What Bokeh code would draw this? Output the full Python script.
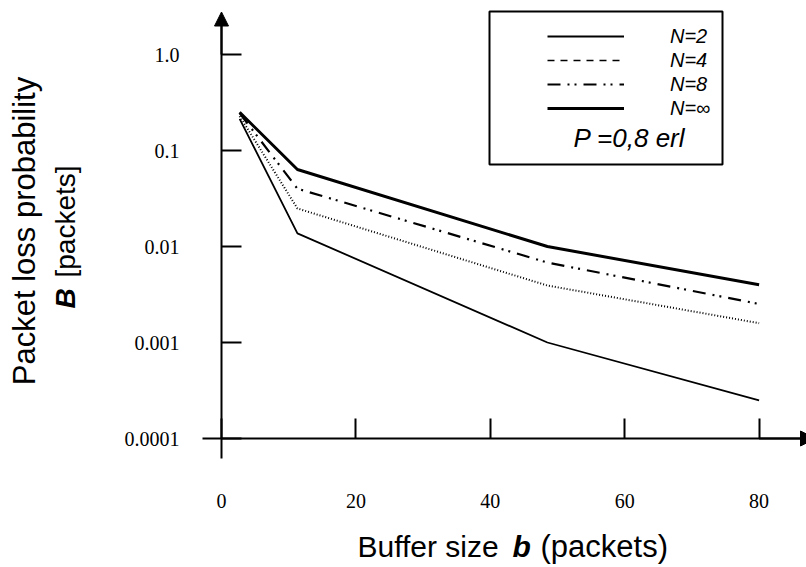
import math
from bokeh.plotting import figure
from bokeh.models import (FixedTicker, Label, BoxAnnotation, Arrow, NormalHead,
                          Legend, LegendItem, Range1d, CDSView, IndexFilter,
                          ColumnDataSource)
from bokeh.embed import file_html
from bokeh.resources import INLINE

# ---------------- data ----------------
buffer_size = [2.7, 11.3, 48.5, 80]
loss_n2 = [0.214, 0.0137, 0.00100, 0.000249]
loss_n4 = [0.228, 0.0249, 0.00392, 0.00159]
loss_n8 = [0.245, 0.0400, 0.0068, 0.00252]
loss_ninf = [0.25, 0.0634, 0.0100, 0.00399]
series_labels = ["N=2", "N=4", "N=8", "N=\u221e"]
load_label = "P =0,8 erl"
x_ticks = [0, 20, 40, 60, 80]
y_ticks = [1e-4, 1e-3, 1e-2, 1e-1, 1.0]
y_tick_labels = ["0.0001", "0.001", "0.01", "0.1", "1.0"]

# ---------------- geometry helpers (canvas px -> data) ----------------
W, H = 806, 566
PX_PER_X = 6.72      # pixels per buffer unit
X_AXIS_PX = 221      # canvas x of x=0
Y_BASE_PX = 438      # canvas y of 1e-4
PX_PER_DEC = 96.0    # pixels per decade


def dx(px):
    return (px - X_AXIS_PX) / PX_PER_X


def dy(py):
    return 10 ** (-4 + (Y_BASE_PX - py) / PX_PER_DEC)


p = figure(width=W, height=H, output_backend="svg", toolbar_location=None,
           y_axis_type="log",
           x_range=Range1d(dx(0), dx(W)), y_range=Range1d(dy(H), dy(0)),
           min_border=0, min_border_left=0, min_border_right=0,
           min_border_top=0, min_border_bottom=0)
p.outline_line_color = None
p.grid.visible = False
p.background_fill_color = "white"
p.border_fill_color = "white"

# ---------------- axes ----------------
xa = p.xaxis[0]
xa.fixed_location = 1e-4
xa.ticker = FixedTicker(ticks=x_ticks)
xa.minor_tick_line_color = None
xa.major_tick_in = 20
xa.major_tick_out = 0
xa.major_tick_line_width = 2
xa.axis_line_width = 2
xa.major_label_standoff = 55
xa.major_label_text_font = "Liberation Serif"
xa.major_label_text_font_size = "20px"
xa.major_label_text_color = "black"
xa.bounds = (dx(202), dx(802))

ya = p.yaxis[0]
ya.fixed_location = 0
ya.ticker = FixedTicker(ticks=y_ticks)
ya.minor_tick_line_color = None
ya.major_tick_in = 20
ya.major_tick_out = 0
ya.major_tick_line_width = 2
ya.axis_line_width = 2
ya.major_label_standoff = 42
ya.major_label_text_font = "Liberation Serif"
ya.major_label_text_font_size = "20px"
ya.major_label_text_color = "black"
ya.major_label_overrides = {t: s for t, s in zip(y_ticks, y_tick_labels)}
ya.bounds = (dy(458), dy(20))

# arrow heads
p.add_layout(Arrow(end=NormalHead(size=14, fill_color="black", line_color="black"),
                   x_start=0, y_start=1.0, x_end=0, y_end=dy(11.5),
                   line_width=2, line_color="black"))
p.add_layout(Arrow(end=NormalHead(size=15, fill_color="black", line_color="black"),
                   x_start=80, y_start=1e-4, x_end=dx(815), y_end=1e-4,
                   line_width=2, line_color="black"))

# ---------------- series ----------------
r2 = p.line(buffer_size, loss_n2, line_color="black", line_width=1.8)
r4 = p.line(buffer_size, loss_n4, line_color="black", line_width=2,
            line_dash="1 2")
r8 = p.line(buffer_size, loss_n8, line_color="black", line_width=2.2,
            line_dash="13 7 2 5 2 7")
rinf = p.line(buffer_size, loss_ninf, line_color="black", line_width=3)
# key-only glyph for N=4 (the key shows it dashed); a single point draws no line
src4 = ColumnDataSource(data=dict(x=buffer_size, y=loss_n4))
r4_key = p.line("x", "y", source=src4, line_color="black", line_width=1.6,
                line_dash="7 6", view=CDSView(filter=IndexFilter([0])))

legend = Legend(items=[LegendItem(label=series_labels[0], renderers=[r2]),
                       LegendItem(label=series_labels[1], renderers=[r4_key]),
                       LegendItem(label=series_labels[2], renderers=[r8]),
                       LegendItem(label=series_labels[3], renderers=[rinf])],
                location=(547, H - 120),
                padding=0, margin=0, spacing=0,
                glyph_width=77, glyph_height=24, label_height=24,
                label_standoff=46,
                label_text_font="Liberation Sans",
                label_text_font_style="italic",
                label_text_font_size="20px",
                label_text_color="black",
                border_line_color=None, background_fill_alpha=0)
p.add_layout(legend, "center")

p.add_layout(BoxAnnotation(left=dx(489), right=dx(722), top=dy(11), bottom=dy(164),
                           fill_alpha=0, line_color="black", line_alpha=1,
                           line_width=2))
p.add_layout(Label(x=dx(573), y=dy(137.7), text=load_label,
                   text_font="Liberation Sans", text_font_style="italic",
                   text_font_size="26px", text_baseline="middle",
                   text_align="left", text_color="black"))

# ---------------- titles ----------------
p.add_layout(Label(x=dx(24), y=dy(230.5), text="Packet loss probability",
                   angle=math.pi / 2, text_align="center", text_baseline="middle",
                   text_font="Liberation Sans", text_font_size="31px",
                   text_color="black"))
p.add_layout(Label(x=dx(65.3), y=dy(308), text="B",
                   angle=math.pi / 2, text_align="left", text_baseline="middle",
                   text_font="Liberation Sans", text_font_style="bold italic",
                   text_font_size="28px", text_color="black"))
p.add_layout(Label(x=dx(65.3), y=dy(277), text="[packets]",
                   angle=math.pi / 2, text_align="left", text_baseline="middle",
                   text_font="Liberation Sans", text_font_size="28px",
                   text_color="black"))

p.add_layout(Label(x=dx(357), y=dy(546), text="Buffer size",
                   text_align="left", text_baseline="middle",
                   text_font="Liberation Sans", text_font_size="30px",
                   text_color="black"))
p.add_layout(Label(x=dx(512), y=dy(546), text="b",
                   text_align="left", text_baseline="middle",
                   text_font="Liberation Sans", text_font_style="bold italic",
                   text_font_size="30px", text_color="black"))
p.add_layout(Label(x=dx(540), y=dy(546), text="(packets)",
                   text_align="left", text_baseline="middle",
                   text_font="Liberation Sans", text_font_size="31px",
                   text_color="black"))

open("out.html", "w").write(file_html(p, INLINE))
